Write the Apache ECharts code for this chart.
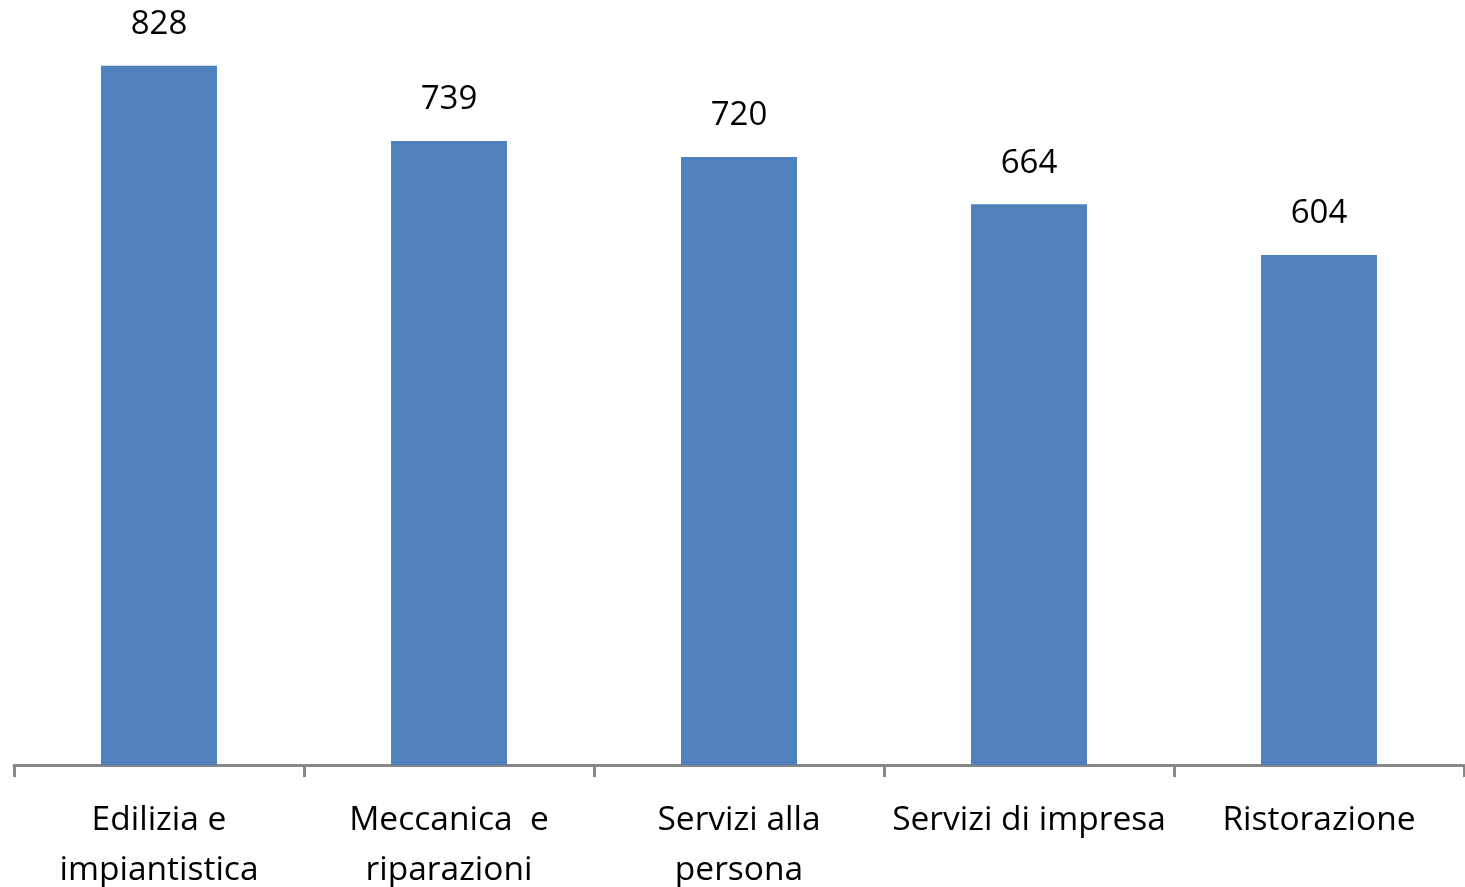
<!DOCTYPE html>
<html><head><meta charset="utf-8">
<script src="https://cdn.jsdelivr.net/npm/echarts@6/dist/echarts.min.js"></script>
<style>html,body{margin:0;padding:0;background:#fff}#c{width:1465px;height:887px}</style>
</head><body><div id="c"></div>
<script>
const categories = ['Edilizia e\nimpiantistica', 'Meccanica  e\nriparazioni', 'Servizi alla\npersona', 'Servizi di impresa', 'Ristorazione'];
const values = [828, 739, 720, 664, 604];
const FONT = '"Open Sans", sans-serif';
const chart = echarts.init(document.getElementById('c'), null, {renderer: 'canvas'});
chart.setOption({
  animation: false,
  grid: {left: 14, right: 1, top: 5, bottom: 122, containLabel: false, outerBoundsMode: 'none'},
  xAxis: {
    type: 'category', data: categories,
    axisLine: {lineStyle: {color: '#878787', width: 3}},
    axisTick: {show: true, length: 12, lineStyle: {color: '#878787', width: 3}},
    axisLabel: {color: '#000', fontFamily: FONT, fontSize: 33.5, lineHeight: 50, margin: 30, interval: 0}
  },
  yAxis: {type: 'value', min: 0, max: 900, show: false, splitLine: {show: false}},
  series: [{
    type: 'bar', data: values, barWidth: 116,
    itemStyle: {color: '#4F81BD'},
    label: {show: true, position: 'top', distance: 21, color: '#000', fontFamily: FONT, fontSize: 33, lineHeight: 40}
  }]
});
</script></body></html>
